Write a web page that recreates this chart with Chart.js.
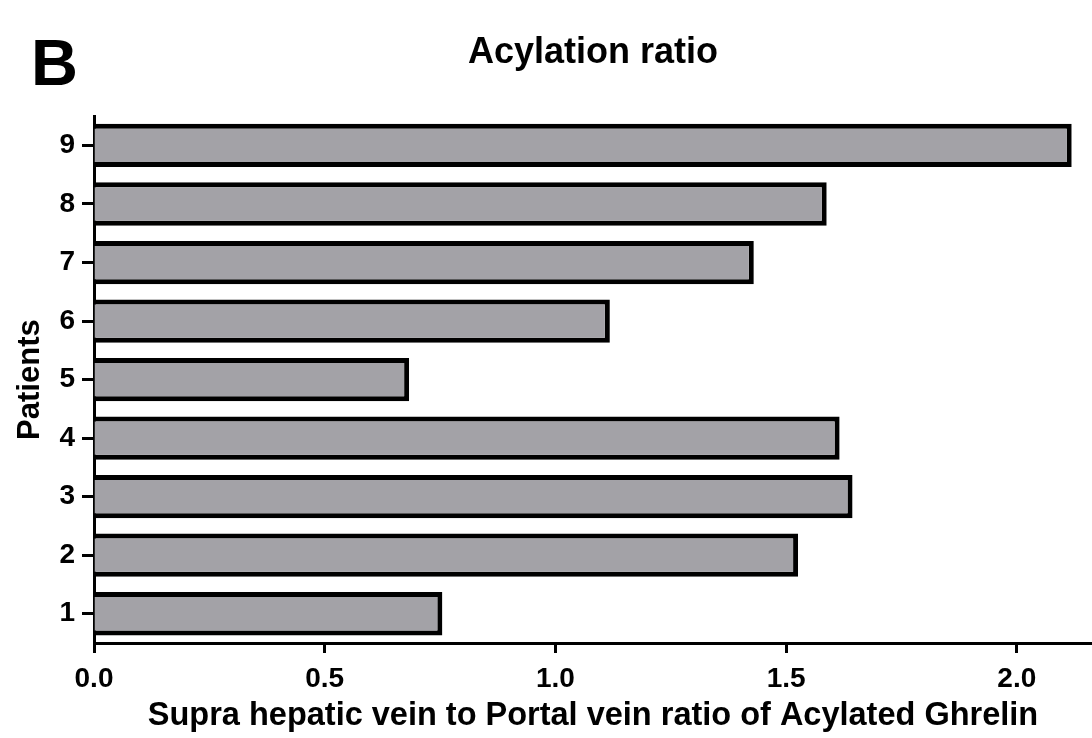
<!DOCTYPE html>
<html>
<head>
<meta charset="utf-8">
<script src="https://cdn.jsdelivr.net/npm/chart.js@4"></script>
<style>
  html, body { margin: 0; padding: 0; background: #fff; }
  #wrap { width: 1092px; height: 738px; }
</style>
</head>
<body>
<div id="wrap"><canvas id="acyl" width="1092" height="738"></canvas></div>
<script>
// patients, bottom to top
const patients = ['1', '2', '3', '4', '5', '6', '7', '8', '9'];
const ratios = [0.755, 1.526, 1.644, 1.616, 0.683, 1.118, 1.430, 1.588, 2.119];
const xTicks = [0, 0.5, 1.0, 1.5, 2.0];

const FONT = "'Liberation Sans', Arial, Helvetica, sans-serif";

// panel letter
const panelLetter = {
  id: 'panelLetter',
  afterDraw(chart) {
    const ctx = chart.ctx;
    ctx.save();
    ctx.font = 'bold 65px ' + FONT;
    ctx.fillStyle = '#000';
    ctx.textAlign = 'left';
    ctx.textBaseline = 'alphabetic';
    ctx.fillText('B', 31, 85);
    ctx.restore();
  }
};

new Chart(document.getElementById('acyl').getContext('2d'), {
  type: 'bar',
  data: {
    labels: patients,
    datasets: [{
      data: ratios,
      backgroundColor: '#a3a2a7',
      borderColor: '#000',
      borderWidth: 5,
      barPercentage: 0.74,
      categoryPercentage: 1.0
    }]
  },
  options: {
    indexAxis: 'y',
    responsive: false,
    animation: false,
    devicePixelRatio: 1,
    layout: { padding: 0 },
    plugins: {
      legend: { display: false },
      tooltip: { enabled: false },
      title: {
        display: true,
        text: 'Acylation ratio',
        fullSize: false,
        color: '#000',
        font: { family: FONT, size: 36, weight: 'bold' },
        padding: { top: 31, bottom: 42 }
      }
    },
    scales: {
      x: {
        type: 'linear',
        min: 0,
        max: 2.163,
        afterBuildTicks: scale => { scale.ticks = xTicks.map(v => ({ value: v })); },
        afterFit: scale => { scale.height = 95; },
        grid: {
          drawOnChartArea: false,
          drawTicks: true,
          tickLength: 10,
          tickWidth: 3,
          tickColor: '#000'
        },
        border: { display: true, color: '#000', width: 3 },
        ticks: {
          color: '#000',
          padding: 9,
          maxRotation: 0,
          font: { family: FONT, size: 28, weight: 'bold' },
          callback: v => Number(v).toFixed(1)
        },
        title: {
          display: true,
          text: 'Supra hepatic vein to Portal vein ratio of Acylated Ghrelin',
          color: '#000',
          font: { family: FONT, size: 32.5, weight: 'bold' },
          padding: { top: 0, bottom: 2 }
        }
      },
      y: {
        reverse: true,
        afterFit: scale => { scale.width = 94; },
        grid: {
          offset: false,
          drawOnChartArea: false,
          drawTicks: true,
          tickLength: 12,
          tickWidth: 3,
          tickColor: '#000'
        },
        border: { display: true, color: '#000', width: 3 },
        ticks: {
          color: '#000',
          padding: 7,
          font: { family: FONT, size: 28, weight: 'bold' }
        },
        title: {
          display: true,
          text: 'Patients',
          color: '#000',
          font: { family: FONT, size: 31, weight: 'bold' },
          padding: { top: 12, bottom: 0 }
        }
      }
    }
  },
  plugins: [panelLetter]
});
</script>
</body>
</html>
